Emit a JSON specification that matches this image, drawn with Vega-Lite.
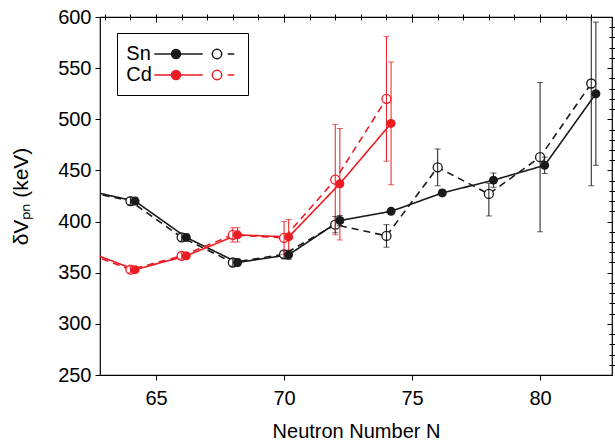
{
  "$schema": "https://vega.github.io/schema/vega-lite/v6.json",
  "width": 512,
  "height": 358,
  "autosize": {"type": "none"},
  "padding": {"left": 100, "top": 17, "right": 3, "bottom": 68},
  "background": "white",
  "datasets": {
    "d": [
      {"el": "Sn", "kind": "filled", "N": 62.18, "v": 431, "lo": 431, "hi": 431},
      {"el": "Sn", "kind": "filled", "N": 64.18, "v": 420, "lo": 416.5, "hi": 423.5},
      {"el": "Sn", "kind": "filled", "N": 66.18, "v": 384.5, "lo": 381, "hi": 388},
      {"el": "Sn", "kind": "filled", "N": 68.18, "v": 360, "lo": 356.5, "hi": 363.5},
      {"el": "Sn", "kind": "filled", "N": 70.18, "v": 367.5, "lo": 363, "hi": 372},
      {"el": "Sn", "kind": "filled", "N": 72.18, "v": 401, "lo": 396, "hi": 406},
      {"el": "Sn", "kind": "filled", "N": 74.18, "v": 410, "lo": 407, "hi": 413},
      {"el": "Sn", "kind": "filled", "N": 76.18, "v": 428, "lo": 425, "hi": 431},
      {"el": "Sn", "kind": "filled", "N": 78.18, "v": 440.5, "lo": 433.5, "hi": 447.5},
      {"el": "Sn", "kind": "filled", "N": 80.18, "v": 455, "lo": 447, "hi": 463},
      {"el": "Sn", "kind": "filled", "N": 82.18, "v": 525, "lo": 455, "hi": 595},
      {"el": "Sn", "kind": "open", "N": 62, "v": 431, "lo": 431, "hi": 431},
      {"el": "Sn", "kind": "open", "N": 64, "v": 420, "lo": 416.5, "hi": 423.5},
      {"el": "Sn", "kind": "open", "N": 66, "v": 384.5, "lo": 381, "hi": 388},
      {"el": "Sn", "kind": "open", "N": 68, "v": 360, "lo": 356.5, "hi": 363.5},
      {"el": "Sn", "kind": "open", "N": 70, "v": 368, "lo": 364.5, "hi": 371.5},
      {"el": "Sn", "kind": "open", "N": 72, "v": 397, "lo": 389, "hi": 405},
      {"el": "Sn", "kind": "open", "N": 74, "v": 386, "lo": 375, "hi": 397},
      {"el": "Sn", "kind": "open", "N": 76, "v": 453, "lo": 435, "hi": 471},
      {"el": "Sn", "kind": "open", "N": 78, "v": 427, "lo": 405.5, "hi": 437.5},
      {"el": "Sn", "kind": "open", "N": 80, "v": 463, "lo": 390, "hi": 536},
      {"el": "Sn", "kind": "open", "N": 82, "v": 535, "lo": 435, "hi": 635},
      {"el": "Cd", "kind": "filled", "N": 62.18, "v": 372, "lo": 372, "hi": 372},
      {"el": "Cd", "kind": "filled", "N": 64.18, "v": 353, "lo": 350, "hi": 356},
      {"el": "Cd", "kind": "filled", "N": 66.18, "v": 366.5, "lo": 363.5, "hi": 369.5},
      {"el": "Cd", "kind": "filled", "N": 68.18, "v": 387, "lo": 380, "hi": 394},
      {"el": "Cd", "kind": "filled", "N": 70.18, "v": 385, "lo": 368, "hi": 402},
      {"el": "Cd", "kind": "filled", "N": 72.18, "v": 437, "lo": 382, "hi": 491},
      {"el": "Cd", "kind": "filled", "N": 74.18, "v": 496, "lo": 436, "hi": 556},
      {"el": "Cd", "kind": "open", "N": 62, "v": 372, "lo": 372, "hi": 372},
      {"el": "Cd", "kind": "open", "N": 64, "v": 353, "lo": 350, "hi": 356},
      {"el": "Cd", "kind": "open", "N": 66, "v": 366.5, "lo": 363.5, "hi": 369.5},
      {"el": "Cd", "kind": "open", "N": 68, "v": 387, "lo": 380, "hi": 394},
      {"el": "Cd", "kind": "open", "N": 70, "v": 384, "lo": 368, "hi": 400},
      {"el": "Cd", "kind": "open", "N": 72, "v": 441, "lo": 387, "hi": 495},
      {"el": "Cd", "kind": "open", "N": 74, "v": 520, "lo": 459, "hi": 581}
    ]
  },
  "data": {"name": "d"},
  "resolve": {"axis": {"x": "independent", "y": "independent"}},
  "layer": [
    {
      "mark": {"type": "line", "clip": true, "strokeWidth": 1.6},
      "encoding": {
        "x": {"field": "N", "type": "quantitative", "scale": {"domain": [62.81, 82.81], "nice": false, "zero": false},
          "axis": {"values": [65, 70, 75, 80], "title": "Neutron Number N", "tickSize": 5, "labelPadding": 8, "titlePadding": 13}},
        "y": {"field": "v", "type": "quantitative", "scale": {"domain": [250, 600], "nice": false, "zero": false},
          "axis": {"values": [250, 300, 350, 400, 450, 500, 550, 600], "title": "δVₚₙ (keV)", "titleFontSize": 21, "tickSize": 5, "labelPadding": 4, "titlePadding": 26}},
        "color": {"field": "el", "type": "nominal", "scale": {"domain": ["Sn", "Cd"], "range": ["#1a1a1a", "#ec1c24"]}},
        "strokeDash": {"field": "kind", "type": "nominal", "scale": {"domain": ["filled", "open"], "range": [[1, 0], [7, 5]]}, "legend": null}
      }
    },
    {
      "transform": [{"filter": "datum.kind == 'open'"}],
      "mark": {"type": "point", "shape": "circle", "filled": false, "fill": "white", "fillOpacity": 1, "opacity": 1, "size": 81, "strokeWidth": 1.3, "clip": true},
      "encoding": {
        "x": {"field": "N", "type": "quantitative", "axis": null},
        "y": {"field": "v", "type": "quantitative", "axis": null},
        "color": {"field": "el", "type": "nominal"}
      }
    },
    {
      "mark": {"type": "rule", "strokeWidth": 1, "clip": true},
      "encoding": {
        "x": {"field": "N", "type": "quantitative",
          "axis": {"values": [63, 64, 65, 66, 67, 68, 69, 70, 71, 72, 73, 74, 75, 76, 77, 78, 79, 80, 81, 82], "labels": false, "title": null, "tickSize": 3}},
        "y": {"field": "lo", "type": "quantitative",
          "axis": {"values": [260, 270, 280, 290, 310, 320, 330, 340, 360, 370, 380, 390, 410, 420, 430, 440, 460, 470, 480, 490, 510, 520, 530, 540, 560, 570, 580, 590], "labels": false, "title": null, "tickSize": 3}},
        "y2": {"field": "hi"},
        "color": {"field": "el", "type": "nominal"}
      }
    },
    {
      "mark": {"type": "tick", "orient": "horizontal", "size": 6, "thickness": 1, "clip": true},
      "encoding": {
        "x": {"field": "N", "type": "quantitative",
          "axis": {"orient": "top", "values": [65, 70, 75, 80], "labels": false, "title": null, "tickSize": -5}},
        "y": {"field": "lo", "type": "quantitative",
          "axis": {"orient": "right", "values": [250, 300, 350, 400, 450, 500, 550, 600], "labels": false, "title": null, "tickSize": -5}},
        "color": {"field": "el", "type": "nominal"}
      }
    },
    {
      "mark": {"type": "tick", "orient": "horizontal", "size": 6, "thickness": 1, "clip": true},
      "encoding": {
        "x": {"field": "N", "type": "quantitative",
          "axis": {"orient": "top", "values": [63, 64, 65, 66, 67, 68, 69, 70, 71, 72, 73, 74, 75, 76, 77, 78, 79, 80, 81, 82], "labels": false, "title": null, "tickSize": -3}},
        "y": {"field": "hi", "type": "quantitative",
          "axis": {"orient": "right", "values": [260, 270, 280, 290, 310, 320, 330, 340, 360, 370, 380, 390, 410, 420, 430, 440, 460, 470, 480, 490, 510, 520, 530, 540, 560, 570, 580, 590], "labels": false, "title": null, "tickSize": -3}},
        "color": {"field": "el", "type": "nominal"}
      }
    },
    {
      "transform": [{"filter": "datum.kind == 'filled'"}],
      "mark": {"type": "point", "shape": "circle", "filled": true, "opacity": 1, "size": 81, "clip": true},
      "encoding": {
        "x": {"field": "N", "type": "quantitative", "axis": null},
        "y": {"field": "v", "type": "quantitative", "axis": null},
        "color": {"field": "el", "type": "nominal",
          "legend": {
            "orient": "none", "legendX": 17, "legendY": 16, "title": null,
            "symbolType": "M0,0H4.84M2.62,0A0.45,0.45,0,1,1,1.72,0A0.45,0.45,0,1,1,2.62,0ZM6.74,0A0.47,0.47,0,1,1,5.8,0A0.47,0.47,0,1,1,6.74,0ZM6.74,0A0.47,0.47,0,1,0,5.8,0A0.47,0.47,0,1,0,6.74,0ZM7.34,0H8",
            "symbolSize": 400, "symbolStrokeWidth": 1.5, "symbolOffset": 16.3,
            "labelOffset": -39, "labelAlign": "left", "labelFont": "Liberation Sans", "labelFontSize": 20, "labelColor": "black",
            "strokeColor": "black", "fillColor": "white", "padding": 10, "rowPadding": 0,
            "encode": {"symbols": {"update": {"fill": {"scale": "color", "field": "value"}, "stroke": {"scale": "color", "field": "value"}, "strokeWidth": {"value": 1.5}, "opacity": {"value": 1}}}}
          }}
      }
    }
  ],
  "config": {
    "view": {"stroke": "black", "strokeWidth": 1.2},
    "axis": {"labelFont": "Liberation Sans", "titleFont": "Liberation Sans", "labelFontSize": 20, "titleFontSize": 20, "labelColor": "black", "titleColor": "black", "tickColor": "black", "tickWidth": 1, "domain": false, "grid": false, "titleFontWeight": "normal"}
  }
}
